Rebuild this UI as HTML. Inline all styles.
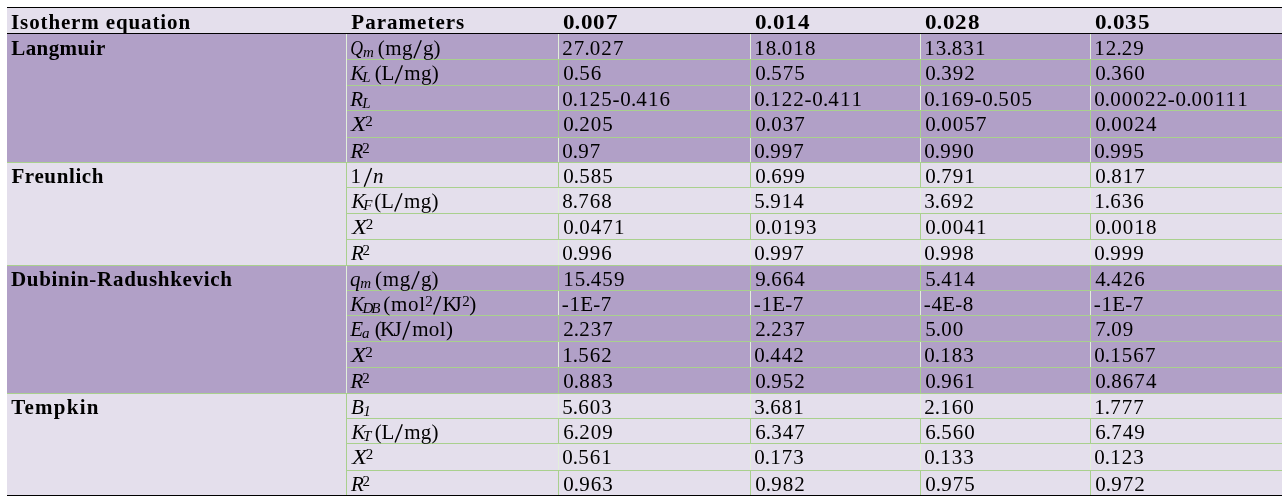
<!DOCTYPE html>
<html><head><meta charset="utf-8"><style>
html,body{margin:0;padding:0;background:#fff;width:1284px;height:503px;overflow:hidden;position:relative}
div{position:absolute}
#tx{will-change:transform;left:0;top:0;width:1284px;height:503px}
.t{font-family:"Liberation Serif",serif;font-size:21px;line-height:0;white-space:nowrap;color:#000}
.s{font-family:"Liberation Serif",serif;font-size:15px;line-height:0;white-space:nowrap;color:#000}
.b{font-weight:bold}
.i{font-style:italic}
</style></head><body>
<div style="left:7px;top:7px;width:1275px;height:1px;background:#000"></div>
<div style="left:7px;top:8px;width:1275px;height:25px;background:#e4dfec"></div>
<div style="left:7px;top:33px;width:1275px;height:1px;background:#000"></div>
<div style="left:7px;top:34px;width:1275px;height:128px;background:#b1a0c7"></div>
<div style="left:558px;top:34px;width:1px;height:25px;background:#e2efda"></div>
<div style="left:750px;top:34px;width:1px;height:25px;background:#e2efda"></div>
<div style="left:920px;top:34px;width:1px;height:25px;background:#e2efda"></div>
<div style="left:1090px;top:34px;width:1px;height:25px;background:#e2efda"></div>
<div style="left:346px;top:34px;width:1px;height:26px;background:#e2efda"></div>
<div style="left:347px;top:59px;width:935px;height:1px;background:#a9d08e"></div>
<div style="left:558px;top:60px;width:1px;height:25px;background:#a9d08e"></div>
<div style="left:750px;top:60px;width:1px;height:25px;background:#a9d08e"></div>
<div style="left:920px;top:60px;width:1px;height:25px;background:#a9d08e"></div>
<div style="left:1090px;top:60px;width:1px;height:25px;background:#a9d08e"></div>
<div style="left:346px;top:60px;width:1px;height:26px;background:#e2efda"></div>
<div style="left:347px;top:85px;width:935px;height:1px;background:#a9d08e"></div>
<div style="left:558px;top:86px;width:1px;height:24px;background:#e2efda"></div>
<div style="left:750px;top:86px;width:1px;height:24px;background:#e2efda"></div>
<div style="left:920px;top:86px;width:1px;height:24px;background:#e2efda"></div>
<div style="left:1090px;top:86px;width:1px;height:24px;background:#e2efda"></div>
<div style="left:346px;top:86px;width:1px;height:25px;background:#e2efda"></div>
<div style="left:347px;top:110px;width:935px;height:1px;background:#a9d08e"></div>
<div style="left:558px;top:111px;width:1px;height:26px;background:#a9d08e"></div>
<div style="left:750px;top:111px;width:1px;height:26px;background:#a9d08e"></div>
<div style="left:920px;top:111px;width:1px;height:26px;background:#a9d08e"></div>
<div style="left:1090px;top:111px;width:1px;height:26px;background:#a9d08e"></div>
<div style="left:346px;top:111px;width:1px;height:27px;background:#e2efda"></div>
<div style="left:347px;top:137px;width:935px;height:1px;background:#a9d08e"></div>
<div style="left:558px;top:138px;width:1px;height:24px;background:#e2efda"></div>
<div style="left:750px;top:138px;width:1px;height:24px;background:#e2efda"></div>
<div style="left:920px;top:138px;width:1px;height:24px;background:#e2efda"></div>
<div style="left:1090px;top:138px;width:1px;height:24px;background:#e2efda"></div>
<div style="left:346px;top:138px;width:1px;height:24px;background:#e2efda"></div>
<div style="left:7px;top:162px;width:1275px;height:1px;background:#a9d08e"></div>
<div style="left:7px;top:163px;width:1275px;height:102px;background:#e4dfec"></div>
<div style="left:558px;top:163px;width:1px;height:24px;background:#a9d08e"></div>
<div style="left:750px;top:163px;width:1px;height:24px;background:#a9d08e"></div>
<div style="left:920px;top:163px;width:1px;height:24px;background:#a9d08e"></div>
<div style="left:1090px;top:163px;width:1px;height:24px;background:#a9d08e"></div>
<div style="left:346px;top:163px;width:1px;height:25px;background:#a9d08e"></div>
<div style="left:347px;top:187px;width:935px;height:1px;background:#a9d08e"></div>
<div style="left:558px;top:188px;width:1px;height:25px;background:#e2efda"></div>
<div style="left:750px;top:188px;width:1px;height:25px;background:#e2efda"></div>
<div style="left:920px;top:188px;width:1px;height:25px;background:#e2efda"></div>
<div style="left:1090px;top:188px;width:1px;height:25px;background:#e2efda"></div>
<div style="left:346px;top:188px;width:1px;height:26px;background:#a9d08e"></div>
<div style="left:347px;top:213px;width:935px;height:1px;background:#a9d08e"></div>
<div style="left:558px;top:214px;width:1px;height:25px;background:#a9d08e"></div>
<div style="left:750px;top:214px;width:1px;height:25px;background:#a9d08e"></div>
<div style="left:920px;top:214px;width:1px;height:25px;background:#a9d08e"></div>
<div style="left:1090px;top:214px;width:1px;height:25px;background:#a9d08e"></div>
<div style="left:346px;top:214px;width:1px;height:26px;background:#a9d08e"></div>
<div style="left:347px;top:239px;width:935px;height:1px;background:#a9d08e"></div>
<div style="left:558px;top:240px;width:1px;height:25px;background:#e2efda"></div>
<div style="left:750px;top:240px;width:1px;height:25px;background:#e2efda"></div>
<div style="left:920px;top:240px;width:1px;height:25px;background:#e2efda"></div>
<div style="left:1090px;top:240px;width:1px;height:25px;background:#e2efda"></div>
<div style="left:346px;top:240px;width:1px;height:25px;background:#a9d08e"></div>
<div style="left:7px;top:265px;width:1275px;height:1px;background:#a9d08e"></div>
<div style="left:7px;top:266px;width:1275px;height:127px;background:#b1a0c7"></div>
<div style="left:558px;top:266px;width:1px;height:24px;background:#a9d08e"></div>
<div style="left:750px;top:266px;width:1px;height:24px;background:#a9d08e"></div>
<div style="left:920px;top:266px;width:1px;height:24px;background:#a9d08e"></div>
<div style="left:1090px;top:266px;width:1px;height:24px;background:#a9d08e"></div>
<div style="left:346px;top:266px;width:1px;height:25px;background:#e2efda"></div>
<div style="left:347px;top:290px;width:935px;height:1px;background:#a9d08e"></div>
<div style="left:558px;top:291px;width:1px;height:24px;background:#e2efda"></div>
<div style="left:750px;top:291px;width:1px;height:24px;background:#e2efda"></div>
<div style="left:920px;top:291px;width:1px;height:24px;background:#e2efda"></div>
<div style="left:1090px;top:291px;width:1px;height:24px;background:#e2efda"></div>
<div style="left:346px;top:291px;width:1px;height:25px;background:#e2efda"></div>
<div style="left:347px;top:315px;width:935px;height:1px;background:#a9d08e"></div>
<div style="left:558px;top:316px;width:1px;height:25px;background:#a9d08e"></div>
<div style="left:750px;top:316px;width:1px;height:25px;background:#a9d08e"></div>
<div style="left:920px;top:316px;width:1px;height:25px;background:#a9d08e"></div>
<div style="left:1090px;top:316px;width:1px;height:25px;background:#a9d08e"></div>
<div style="left:346px;top:316px;width:1px;height:26px;background:#e2efda"></div>
<div style="left:347px;top:341px;width:935px;height:1px;background:#a9d08e"></div>
<div style="left:558px;top:342px;width:1px;height:25px;background:#e2efda"></div>
<div style="left:750px;top:342px;width:1px;height:25px;background:#e2efda"></div>
<div style="left:920px;top:342px;width:1px;height:25px;background:#e2efda"></div>
<div style="left:1090px;top:342px;width:1px;height:25px;background:#e2efda"></div>
<div style="left:346px;top:342px;width:1px;height:26px;background:#e2efda"></div>
<div style="left:347px;top:367px;width:935px;height:1px;background:#a9d08e"></div>
<div style="left:558px;top:368px;width:1px;height:25px;background:#a9d08e"></div>
<div style="left:750px;top:368px;width:1px;height:25px;background:#a9d08e"></div>
<div style="left:920px;top:368px;width:1px;height:25px;background:#a9d08e"></div>
<div style="left:1090px;top:368px;width:1px;height:25px;background:#a9d08e"></div>
<div style="left:346px;top:368px;width:1px;height:25px;background:#e2efda"></div>
<div style="left:7px;top:393px;width:1275px;height:1px;background:#a9d08e"></div>
<div style="left:7px;top:394px;width:1275px;height:101px;background:#e4dfec"></div>
<div style="left:558px;top:394px;width:1px;height:24px;background:#e2efda"></div>
<div style="left:750px;top:394px;width:1px;height:24px;background:#e2efda"></div>
<div style="left:920px;top:394px;width:1px;height:24px;background:#e2efda"></div>
<div style="left:1090px;top:394px;width:1px;height:24px;background:#e2efda"></div>
<div style="left:346px;top:394px;width:1px;height:25px;background:#a9d08e"></div>
<div style="left:347px;top:418px;width:935px;height:1px;background:#a9d08e"></div>
<div style="left:558px;top:419px;width:1px;height:24px;background:#a9d08e"></div>
<div style="left:750px;top:419px;width:1px;height:24px;background:#a9d08e"></div>
<div style="left:920px;top:419px;width:1px;height:24px;background:#a9d08e"></div>
<div style="left:1090px;top:419px;width:1px;height:24px;background:#a9d08e"></div>
<div style="left:346px;top:419px;width:1px;height:25px;background:#a9d08e"></div>
<div style="left:347px;top:443px;width:935px;height:1px;background:#a9d08e"></div>
<div style="left:558px;top:444px;width:1px;height:26px;background:#e2efda"></div>
<div style="left:750px;top:444px;width:1px;height:26px;background:#e2efda"></div>
<div style="left:920px;top:444px;width:1px;height:26px;background:#e2efda"></div>
<div style="left:1090px;top:444px;width:1px;height:26px;background:#e2efda"></div>
<div style="left:346px;top:444px;width:1px;height:27px;background:#a9d08e"></div>
<div style="left:347px;top:470px;width:935px;height:1px;background:#a9d08e"></div>
<div style="left:558px;top:471px;width:1px;height:24px;background:#a9d08e"></div>
<div style="left:750px;top:471px;width:1px;height:24px;background:#a9d08e"></div>
<div style="left:920px;top:471px;width:1px;height:24px;background:#a9d08e"></div>
<div style="left:1090px;top:471px;width:1px;height:24px;background:#a9d08e"></div>
<div style="left:346px;top:471px;width:1px;height:24px;background:#a9d08e"></div>
<div style="left:7px;top:495px;width:1275px;height:1px;background:#000"></div>
<div id="tx">
<div class="t b" style="left:562.77px;top:22px;transform:scaleX(1.1);transform-origin:0 0;">0</div>
<div class="t b" style="left:574.79px;top:22px;">.</div>
<div class="t b" style="left:580.52px;top:22px;transform:scaleX(1.1);transform-origin:0 0;">0</div>
<div class="t b" style="left:593.27px;top:22px;transform:scaleX(1.1);transform-origin:0 0;">0</div>
<div class="t b" style="left:606.02px;top:22px;transform:scaleX(1.1);transform-origin:0 0;">7</div>
<div class="t b" style="left:754.77px;top:22px;transform:scaleX(1.1);transform-origin:0 0;">0</div>
<div class="t b" style="left:766.79px;top:22px;">.</div>
<div class="t b" style="left:772.52px;top:22px;transform:scaleX(1.1);transform-origin:0 0;">0</div>
<div class="t b" style="left:785.27px;top:22px;transform:scaleX(1.1);transform-origin:0 0;">1</div>
<div class="t b" style="left:798.02px;top:22px;transform:scaleX(1.1);transform-origin:0 0;">4</div>
<div class="t b" style="left:924.77px;top:22px;transform:scaleX(1.1);transform-origin:0 0;">0</div>
<div class="t b" style="left:936.79px;top:22px;">.</div>
<div class="t b" style="left:942.52px;top:22px;transform:scaleX(1.1);transform-origin:0 0;">0</div>
<div class="t b" style="left:955.27px;top:22px;transform:scaleX(1.1);transform-origin:0 0;">2</div>
<div class="t b" style="left:968.02px;top:22px;transform:scaleX(1.1);transform-origin:0 0;">8</div>
<div class="t b" style="left:1094.77px;top:22px;transform:scaleX(1.1);transform-origin:0 0;">0</div>
<div class="t b" style="left:1106.80px;top:22px;">.</div>
<div class="t b" style="left:1112.52px;top:22px;transform:scaleX(1.1);transform-origin:0 0;">0</div>
<div class="t b" style="left:1125.27px;top:22px;transform:scaleX(1.1);transform-origin:0 0;">3</div>
<div class="t b" style="left:1138.02px;top:22px;transform:scaleX(1.1);transform-origin:0 0;">5</div>
<div class="t" style="left:562.17px;top:48px"><span style="letter-spacing:1.100px">2</span><span style="letter-spacing:0.100px">7</span><span style="letter-spacing:0.100px">.</span><span style="letter-spacing:1.100px">0</span><span style="letter-spacing:1.100px">2</span><span style="letter-spacing:0.550px">7</span></div>
<div class="t" style="left:754.17px;top:48px"><span style="letter-spacing:1.100px">1</span><span style="letter-spacing:0.100px">8</span><span style="letter-spacing:0.100px">.</span><span style="letter-spacing:1.100px">0</span><span style="letter-spacing:1.100px">1</span><span style="letter-spacing:0.550px">8</span></div>
<div class="t" style="left:924.17px;top:48px"><span style="letter-spacing:1.100px">1</span><span style="letter-spacing:0.100px">3</span><span style="letter-spacing:0.100px">.</span><span style="letter-spacing:1.100px">8</span><span style="letter-spacing:1.100px">3</span><span style="letter-spacing:0.550px">1</span></div>
<div class="t" style="left:1094.17px;top:48px"><span style="letter-spacing:1.100px">1</span><span style="letter-spacing:0.100px">2</span><span style="letter-spacing:0.100px">.</span><span style="letter-spacing:1.100px">2</span><span style="letter-spacing:0.550px">9</span></div>
<div class="t" style="left:563.17px;top:73px"><span style="letter-spacing:0.100px">0</span><span style="letter-spacing:0.100px">.</span><span style="letter-spacing:1.100px">5</span><span style="letter-spacing:0.550px">6</span></div>
<div class="t" style="left:755.17px;top:73px"><span style="letter-spacing:0.100px">0</span><span style="letter-spacing:0.100px">.</span><span style="letter-spacing:1.100px">5</span><span style="letter-spacing:1.100px">7</span><span style="letter-spacing:0.550px">5</span></div>
<div class="t" style="left:925.17px;top:73px"><span style="letter-spacing:0.100px">0</span><span style="letter-spacing:0.100px">.</span><span style="letter-spacing:1.100px">3</span><span style="letter-spacing:1.100px">9</span><span style="letter-spacing:0.550px">2</span></div>
<div class="t" style="left:1095.17px;top:73px"><span style="letter-spacing:0.100px">0</span><span style="letter-spacing:0.100px">.</span><span style="letter-spacing:1.100px">3</span><span style="letter-spacing:1.100px">6</span><span style="letter-spacing:0.550px">0</span></div>
<div class="t" style="left:562.17px;top:99px"><span style="letter-spacing:0.100px">0</span><span style="letter-spacing:0.100px">.</span><span style="letter-spacing:1.100px">1</span><span style="letter-spacing:1.100px">2</span><span style="letter-spacing:0.728px">5</span><span style="letter-spacing:0.728px">-</span><span style="letter-spacing:0.100px">0</span><span style="letter-spacing:0.100px">.</span><span style="letter-spacing:1.100px">4</span><span style="letter-spacing:1.100px">1</span><span style="letter-spacing:0.550px">6</span></div>
<div class="t" style="left:754.17px;top:99px"><span style="letter-spacing:0.100px">0</span><span style="letter-spacing:0.100px">.</span><span style="letter-spacing:1.100px">1</span><span style="letter-spacing:1.100px">2</span><span style="letter-spacing:0.728px">2</span><span style="letter-spacing:0.728px">-</span><span style="letter-spacing:0.100px">0</span><span style="letter-spacing:0.100px">.</span><span style="letter-spacing:1.100px">4</span><span style="letter-spacing:1.100px">1</span><span style="letter-spacing:0.550px">1</span></div>
<div class="t" style="left:924.17px;top:99px"><span style="letter-spacing:0.100px">0</span><span style="letter-spacing:0.100px">.</span><span style="letter-spacing:1.100px">1</span><span style="letter-spacing:1.100px">6</span><span style="letter-spacing:0.728px">9</span><span style="letter-spacing:0.728px">-</span><span style="letter-spacing:0.100px">0</span><span style="letter-spacing:0.100px">.</span><span style="letter-spacing:1.100px">5</span><span style="letter-spacing:1.100px">0</span><span style="letter-spacing:0.550px">5</span></div>
<div class="t" style="left:1094.17px;top:99px"><span style="letter-spacing:0.100px">0</span><span style="letter-spacing:0.100px">.</span><span style="letter-spacing:1.100px">0</span><span style="letter-spacing:1.100px">0</span><span style="letter-spacing:1.100px">0</span><span style="letter-spacing:1.100px">2</span><span style="letter-spacing:0.728px">2</span><span style="letter-spacing:0.728px">-</span><span style="letter-spacing:0.100px">0</span><span style="letter-spacing:0.100px">.</span><span style="letter-spacing:1.100px">0</span><span style="letter-spacing:1.100px">0</span><span style="letter-spacing:1.100px">1</span><span style="letter-spacing:1.100px">1</span><span style="letter-spacing:0.550px">1</span></div>
<div class="t" style="left:563.17px;top:124px"><span style="letter-spacing:0.100px">0</span><span style="letter-spacing:0.100px">.</span><span style="letter-spacing:1.100px">2</span><span style="letter-spacing:1.100px">0</span><span style="letter-spacing:0.550px">5</span></div>
<div class="t" style="left:755.17px;top:124px"><span style="letter-spacing:0.100px">0</span><span style="letter-spacing:0.100px">.</span><span style="letter-spacing:1.100px">0</span><span style="letter-spacing:1.100px">3</span><span style="letter-spacing:0.550px">7</span></div>
<div class="t" style="left:925.17px;top:124px"><span style="letter-spacing:0.100px">0</span><span style="letter-spacing:0.100px">.</span><span style="letter-spacing:1.100px">0</span><span style="letter-spacing:1.100px">0</span><span style="letter-spacing:1.100px">5</span><span style="letter-spacing:0.550px">7</span></div>
<div class="t" style="left:1095.17px;top:124px"><span style="letter-spacing:0.100px">0</span><span style="letter-spacing:0.100px">.</span><span style="letter-spacing:1.100px">0</span><span style="letter-spacing:1.100px">0</span><span style="letter-spacing:1.100px">2</span><span style="letter-spacing:0.550px">4</span></div>
<div class="t" style="left:562.17px;top:151px"><span style="letter-spacing:0.100px">0</span><span style="letter-spacing:0.100px">.</span><span style="letter-spacing:1.100px">9</span><span style="letter-spacing:0.550px">7</span></div>
<div class="t" style="left:754.17px;top:151px"><span style="letter-spacing:0.100px">0</span><span style="letter-spacing:0.100px">.</span><span style="letter-spacing:1.100px">9</span><span style="letter-spacing:1.100px">9</span><span style="letter-spacing:0.550px">7</span></div>
<div class="t" style="left:924.17px;top:151px"><span style="letter-spacing:0.100px">0</span><span style="letter-spacing:0.100px">.</span><span style="letter-spacing:1.100px">9</span><span style="letter-spacing:1.100px">9</span><span style="letter-spacing:0.550px">0</span></div>
<div class="t" style="left:1094.17px;top:151px"><span style="letter-spacing:0.100px">0</span><span style="letter-spacing:0.100px">.</span><span style="letter-spacing:1.100px">9</span><span style="letter-spacing:1.100px">9</span><span style="letter-spacing:0.550px">5</span></div>
<div class="t" style="left:563.17px;top:176px"><span style="letter-spacing:0.100px">0</span><span style="letter-spacing:0.100px">.</span><span style="letter-spacing:1.100px">5</span><span style="letter-spacing:1.100px">8</span><span style="letter-spacing:0.550px">5</span></div>
<div class="t" style="left:755.17px;top:176px"><span style="letter-spacing:0.100px">0</span><span style="letter-spacing:0.100px">.</span><span style="letter-spacing:1.100px">6</span><span style="letter-spacing:1.100px">9</span><span style="letter-spacing:0.550px">9</span></div>
<div class="t" style="left:925.17px;top:176px"><span style="letter-spacing:0.100px">0</span><span style="letter-spacing:0.100px">.</span><span style="letter-spacing:1.100px">7</span><span style="letter-spacing:1.100px">9</span><span style="letter-spacing:0.550px">1</span></div>
<div class="t" style="left:1095.17px;top:176px"><span style="letter-spacing:0.100px">0</span><span style="letter-spacing:0.100px">.</span><span style="letter-spacing:1.100px">8</span><span style="letter-spacing:1.100px">1</span><span style="letter-spacing:0.550px">7</span></div>
<div class="t" style="left:562.17px;top:201px"><span style="letter-spacing:0.100px">8</span><span style="letter-spacing:0.100px">.</span><span style="letter-spacing:1.100px">7</span><span style="letter-spacing:1.100px">6</span><span style="letter-spacing:0.550px">8</span></div>
<div class="t" style="left:754.17px;top:201px"><span style="letter-spacing:0.100px">5</span><span style="letter-spacing:0.100px">.</span><span style="letter-spacing:1.100px">9</span><span style="letter-spacing:1.100px">1</span><span style="letter-spacing:0.550px">4</span></div>
<div class="t" style="left:924.17px;top:201px"><span style="letter-spacing:0.100px">3</span><span style="letter-spacing:0.100px">.</span><span style="letter-spacing:1.100px">6</span><span style="letter-spacing:1.100px">9</span><span style="letter-spacing:0.550px">2</span></div>
<div class="t" style="left:1094.17px;top:201px"><span style="letter-spacing:0.100px">1</span><span style="letter-spacing:0.100px">.</span><span style="letter-spacing:1.100px">6</span><span style="letter-spacing:1.100px">3</span><span style="letter-spacing:0.550px">6</span></div>
<div class="t" style="left:563.17px;top:227px"><span style="letter-spacing:0.100px">0</span><span style="letter-spacing:0.100px">.</span><span style="letter-spacing:1.100px">0</span><span style="letter-spacing:1.100px">4</span><span style="letter-spacing:1.100px">7</span><span style="letter-spacing:0.550px">1</span></div>
<div class="t" style="left:755.17px;top:227px"><span style="letter-spacing:0.100px">0</span><span style="letter-spacing:0.100px">.</span><span style="letter-spacing:1.100px">0</span><span style="letter-spacing:1.100px">1</span><span style="letter-spacing:1.100px">9</span><span style="letter-spacing:0.550px">3</span></div>
<div class="t" style="left:925.17px;top:227px"><span style="letter-spacing:0.100px">0</span><span style="letter-spacing:0.100px">.</span><span style="letter-spacing:1.100px">0</span><span style="letter-spacing:1.100px">0</span><span style="letter-spacing:1.100px">4</span><span style="letter-spacing:0.550px">1</span></div>
<div class="t" style="left:1095.17px;top:227px"><span style="letter-spacing:0.100px">0</span><span style="letter-spacing:0.100px">.</span><span style="letter-spacing:1.100px">0</span><span style="letter-spacing:1.100px">0</span><span style="letter-spacing:1.100px">1</span><span style="letter-spacing:0.550px">8</span></div>
<div class="t" style="left:562.17px;top:253px"><span style="letter-spacing:0.100px">0</span><span style="letter-spacing:0.100px">.</span><span style="letter-spacing:1.100px">9</span><span style="letter-spacing:1.100px">9</span><span style="letter-spacing:0.550px">6</span></div>
<div class="t" style="left:754.17px;top:253px"><span style="letter-spacing:0.100px">0</span><span style="letter-spacing:0.100px">.</span><span style="letter-spacing:1.100px">9</span><span style="letter-spacing:1.100px">9</span><span style="letter-spacing:0.550px">7</span></div>
<div class="t" style="left:924.17px;top:253px"><span style="letter-spacing:0.100px">0</span><span style="letter-spacing:0.100px">.</span><span style="letter-spacing:1.100px">9</span><span style="letter-spacing:1.100px">9</span><span style="letter-spacing:0.550px">8</span></div>
<div class="t" style="left:1094.17px;top:253px"><span style="letter-spacing:0.100px">0</span><span style="letter-spacing:0.100px">.</span><span style="letter-spacing:1.100px">9</span><span style="letter-spacing:1.100px">9</span><span style="letter-spacing:0.550px">9</span></div>
<div class="t" style="left:563.17px;top:279px"><span style="letter-spacing:1.100px">1</span><span style="letter-spacing:0.100px">5</span><span style="letter-spacing:0.100px">.</span><span style="letter-spacing:1.100px">4</span><span style="letter-spacing:1.100px">5</span><span style="letter-spacing:0.550px">9</span></div>
<div class="t" style="left:755.17px;top:279px"><span style="letter-spacing:0.100px">9</span><span style="letter-spacing:0.100px">.</span><span style="letter-spacing:1.100px">6</span><span style="letter-spacing:1.100px">6</span><span style="letter-spacing:0.550px">4</span></div>
<div class="t" style="left:925.17px;top:279px"><span style="letter-spacing:0.100px">5</span><span style="letter-spacing:0.100px">.</span><span style="letter-spacing:1.100px">4</span><span style="letter-spacing:1.100px">1</span><span style="letter-spacing:0.550px">4</span></div>
<div class="t" style="left:1095.17px;top:279px"><span style="letter-spacing:0.100px">4</span><span style="letter-spacing:0.100px">.</span><span style="letter-spacing:1.100px">4</span><span style="letter-spacing:1.100px">2</span><span style="letter-spacing:0.550px">6</span></div>
<div class="t" style="left:561.80px;top:304px"><span style="letter-spacing:0.728px">-</span><span style="letter-spacing:0.309px">1</span><span style="letter-spacing:-0.062px">E</span><span style="letter-spacing:0.728px">-</span><span style="letter-spacing:0.550px">7</span></div>
<div class="t" style="left:753.80px;top:304px"><span style="letter-spacing:0.728px">-</span><span style="letter-spacing:0.309px">1</span><span style="letter-spacing:-0.062px">E</span><span style="letter-spacing:0.728px">-</span><span style="letter-spacing:0.550px">7</span></div>
<div class="t" style="left:923.80px;top:304px"><span style="letter-spacing:0.728px">-</span><span style="letter-spacing:0.309px">4</span><span style="letter-spacing:-0.062px">E</span><span style="letter-spacing:0.728px">-</span><span style="letter-spacing:0.550px">8</span></div>
<div class="t" style="left:1093.80px;top:304px"><span style="letter-spacing:0.728px">-</span><span style="letter-spacing:0.309px">1</span><span style="letter-spacing:-0.062px">E</span><span style="letter-spacing:0.728px">-</span><span style="letter-spacing:0.550px">7</span></div>
<div class="t" style="left:563.17px;top:329px"><span style="letter-spacing:0.100px">2</span><span style="letter-spacing:0.100px">.</span><span style="letter-spacing:1.100px">2</span><span style="letter-spacing:1.100px">3</span><span style="letter-spacing:0.550px">7</span></div>
<div class="t" style="left:755.17px;top:329px"><span style="letter-spacing:0.100px">2</span><span style="letter-spacing:0.100px">.</span><span style="letter-spacing:1.100px">2</span><span style="letter-spacing:1.100px">3</span><span style="letter-spacing:0.550px">7</span></div>
<div class="t" style="left:925.17px;top:329px"><span style="letter-spacing:0.100px">5</span><span style="letter-spacing:0.100px">.</span><span style="letter-spacing:1.100px">0</span><span style="letter-spacing:0.550px">0</span></div>
<div class="t" style="left:1095.17px;top:329px"><span style="letter-spacing:0.100px">7</span><span style="letter-spacing:0.100px">.</span><span style="letter-spacing:1.100px">0</span><span style="letter-spacing:0.550px">9</span></div>
<div class="t" style="left:562.17px;top:355px"><span style="letter-spacing:0.100px">1</span><span style="letter-spacing:0.100px">.</span><span style="letter-spacing:1.100px">5</span><span style="letter-spacing:1.100px">6</span><span style="letter-spacing:0.550px">2</span></div>
<div class="t" style="left:754.17px;top:355px"><span style="letter-spacing:0.100px">0</span><span style="letter-spacing:0.100px">.</span><span style="letter-spacing:1.100px">4</span><span style="letter-spacing:1.100px">4</span><span style="letter-spacing:0.550px">2</span></div>
<div class="t" style="left:924.17px;top:355px"><span style="letter-spacing:0.100px">0</span><span style="letter-spacing:0.100px">.</span><span style="letter-spacing:1.100px">1</span><span style="letter-spacing:1.100px">8</span><span style="letter-spacing:0.550px">3</span></div>
<div class="t" style="left:1094.17px;top:355px"><span style="letter-spacing:0.100px">0</span><span style="letter-spacing:0.100px">.</span><span style="letter-spacing:1.100px">1</span><span style="letter-spacing:1.100px">5</span><span style="letter-spacing:1.100px">6</span><span style="letter-spacing:0.550px">7</span></div>
<div class="t" style="left:563.17px;top:381px"><span style="letter-spacing:0.100px">0</span><span style="letter-spacing:0.100px">.</span><span style="letter-spacing:1.100px">8</span><span style="letter-spacing:1.100px">8</span><span style="letter-spacing:0.550px">3</span></div>
<div class="t" style="left:755.17px;top:381px"><span style="letter-spacing:0.100px">0</span><span style="letter-spacing:0.100px">.</span><span style="letter-spacing:1.100px">9</span><span style="letter-spacing:1.100px">5</span><span style="letter-spacing:0.550px">2</span></div>
<div class="t" style="left:925.17px;top:381px"><span style="letter-spacing:0.100px">0</span><span style="letter-spacing:0.100px">.</span><span style="letter-spacing:1.100px">9</span><span style="letter-spacing:1.100px">6</span><span style="letter-spacing:0.550px">1</span></div>
<div class="t" style="left:1095.17px;top:381px"><span style="letter-spacing:0.100px">0</span><span style="letter-spacing:0.100px">.</span><span style="letter-spacing:1.100px">8</span><span style="letter-spacing:1.100px">6</span><span style="letter-spacing:1.100px">7</span><span style="letter-spacing:0.550px">4</span></div>
<div class="t" style="left:562.17px;top:407px"><span style="letter-spacing:0.100px">5</span><span style="letter-spacing:0.100px">.</span><span style="letter-spacing:1.100px">6</span><span style="letter-spacing:1.100px">0</span><span style="letter-spacing:0.550px">3</span></div>
<div class="t" style="left:754.17px;top:407px"><span style="letter-spacing:0.100px">3</span><span style="letter-spacing:0.100px">.</span><span style="letter-spacing:1.100px">6</span><span style="letter-spacing:1.100px">8</span><span style="letter-spacing:0.550px">1</span></div>
<div class="t" style="left:924.17px;top:407px"><span style="letter-spacing:0.100px">2</span><span style="letter-spacing:0.100px">.</span><span style="letter-spacing:1.100px">1</span><span style="letter-spacing:1.100px">6</span><span style="letter-spacing:0.550px">0</span></div>
<div class="t" style="left:1094.17px;top:407px"><span style="letter-spacing:0.100px">1</span><span style="letter-spacing:0.100px">.</span><span style="letter-spacing:1.100px">7</span><span style="letter-spacing:1.100px">7</span><span style="letter-spacing:0.550px">7</span></div>
<div class="t" style="left:563.17px;top:432px"><span style="letter-spacing:0.100px">6</span><span style="letter-spacing:0.100px">.</span><span style="letter-spacing:1.100px">2</span><span style="letter-spacing:1.100px">0</span><span style="letter-spacing:0.550px">9</span></div>
<div class="t" style="left:755.17px;top:432px"><span style="letter-spacing:0.100px">6</span><span style="letter-spacing:0.100px">.</span><span style="letter-spacing:1.100px">3</span><span style="letter-spacing:1.100px">4</span><span style="letter-spacing:0.550px">7</span></div>
<div class="t" style="left:925.17px;top:432px"><span style="letter-spacing:0.100px">6</span><span style="letter-spacing:0.100px">.</span><span style="letter-spacing:1.100px">5</span><span style="letter-spacing:1.100px">6</span><span style="letter-spacing:0.550px">0</span></div>
<div class="t" style="left:1095.17px;top:432px"><span style="letter-spacing:0.100px">6</span><span style="letter-spacing:0.100px">.</span><span style="letter-spacing:1.100px">7</span><span style="letter-spacing:1.100px">4</span><span style="letter-spacing:0.550px">9</span></div>
<div class="t" style="left:562.17px;top:457px"><span style="letter-spacing:0.100px">0</span><span style="letter-spacing:0.100px">.</span><span style="letter-spacing:1.100px">5</span><span style="letter-spacing:1.100px">6</span><span style="letter-spacing:0.550px">1</span></div>
<div class="t" style="left:754.17px;top:457px"><span style="letter-spacing:0.100px">0</span><span style="letter-spacing:0.100px">.</span><span style="letter-spacing:1.100px">1</span><span style="letter-spacing:1.100px">7</span><span style="letter-spacing:0.550px">3</span></div>
<div class="t" style="left:924.17px;top:457px"><span style="letter-spacing:0.100px">0</span><span style="letter-spacing:0.100px">.</span><span style="letter-spacing:1.100px">1</span><span style="letter-spacing:1.100px">3</span><span style="letter-spacing:0.550px">3</span></div>
<div class="t" style="left:1094.17px;top:457px"><span style="letter-spacing:0.100px">0</span><span style="letter-spacing:0.100px">.</span><span style="letter-spacing:1.100px">1</span><span style="letter-spacing:1.100px">2</span><span style="letter-spacing:0.550px">3</span></div>
<div class="t" style="left:563.17px;top:484px"><span style="letter-spacing:0.100px">0</span><span style="letter-spacing:0.100px">.</span><span style="letter-spacing:1.100px">9</span><span style="letter-spacing:1.100px">6</span><span style="letter-spacing:0.550px">3</span></div>
<div class="t" style="left:755.17px;top:484px"><span style="letter-spacing:0.100px">0</span><span style="letter-spacing:0.100px">.</span><span style="letter-spacing:1.100px">9</span><span style="letter-spacing:1.100px">8</span><span style="letter-spacing:0.550px">2</span></div>
<div class="t" style="left:925.17px;top:484px"><span style="letter-spacing:0.100px">0</span><span style="letter-spacing:0.100px">.</span><span style="letter-spacing:1.100px">9</span><span style="letter-spacing:1.100px">7</span><span style="letter-spacing:0.550px">5</span></div>
<div class="t" style="left:1095.17px;top:484px"><span style="letter-spacing:0.100px">0</span><span style="letter-spacing:0.100px">.</span><span style="letter-spacing:1.100px">9</span><span style="letter-spacing:1.100px">7</span><span style="letter-spacing:0.550px">2</span></div>
<div class="t b" style="left:11.07px;top:22px;letter-spacing:0.870px;">Isotherm equation</div>
<div class="t b" style="left:351.29px;top:22px;letter-spacing:1.023px;">Parameters</div>
<div class="t i" style="left:349.89px;top:48px;"><span style="display:inline-block;transform:scaleX(0.843);transform-origin:1.21px 0;">Q</span></div>
<div class="s i" style="left:363.04px;top:52px;">m</div>
<div class="t" style="left:377.85px;top:48px;letter-spacing:0.433px;">(mg</div>
<div class="t" style="left:423.05px;top:48px;letter-spacing:-0.084px;">g)</div>
<div class="t b" style="left:11.25px;top:48px;letter-spacing:0.419px;">Langmuir</div>
<div class="t i" style="left:350.47px;top:73px;">K</div>
<div class="s i" style="left:362.36px;top:77px;">L</div>
<div class="t" style="left:374.85px;top:73px;letter-spacing:-0.380px;">(L</div>
<div class="t" style="left:404.24px;top:73px;letter-spacing:0.344px;">mg)</div>
<div class="t i" style="left:350.20px;top:99px;">R</div>
<div class="s i" style="left:362.16px;top:103px;">L</div>
<div class="t i" style="left:350.62px;top:124px;"><span style="display:inline-block;transform:scaleX(1.179);transform-origin:-0.02px 0;">X</span></div>
<div class="s" style="left:365.34px;top:121px;">2</div>
<div class="t i" style="left:350.40px;top:151px;">R</div>
<div class="s" style="left:362.24px;top:148px;">2</div>
<div class="t" style="left:350.53px;top:176px;">1</div>
<div class="t i" style="left:372.96px;top:176px;">n</div>
<div class="t b" style="left:11.39px;top:176px;letter-spacing:0.624px;">Freunlich</div>
<div class="t i" style="left:351.47px;top:201px;">K</div>
<div class="s i" style="left:363.26px;top:205px;">F</div>
<div class="t" style="left:374.35px;top:201px;letter-spacing:-0.297px;">(L</div>
<div class="t" style="left:403.88px;top:201px;letter-spacing:0.423px;">mg)</div>
<div class="t i" style="left:351.52px;top:227px;"><span style="display:inline-block;transform:scaleX(1.164);transform-origin:-0.02px 0;">X</span></div>
<div class="s" style="left:365.74px;top:224px;">2</div>
<div class="t i" style="left:351.10px;top:253px;">R</div>
<div class="s" style="left:362.54px;top:250px;">2</div>
<div class="t i" style="left:349.96px;top:279px;">q</div>
<div class="s i" style="left:360.34px;top:283px;">m</div>
<div class="t" style="left:374.95px;top:279px;letter-spacing:0.707px;">(mg</div>
<div class="t" style="left:420.89px;top:279px;letter-spacing:0.171px;">g)</div>
<div class="t b" style="left:10.88px;top:279px;letter-spacing:0.705px;">Dubinin-Radushkevich</div>
<div class="t i" style="left:350.27px;top:304px;">K</div>
<div class="s i" style="left:362.55px;top:308px;letter-spacing:-2.231px;">DB</div>
<div class="t" style="left:383.35px;top:304px;letter-spacing:0.658px;">(mol</div>
<div class="s" style="left:425.34px;top:301px;">2</div>
<div class="t" style="left:442.52px;top:304px;letter-spacing:-4.073px;">KJ</div>
<div class="s" style="left:462.34px;top:301px;">2</div>
<div class="t" style="left:469.37px;top:304px;">)</div>
<div class="t i" style="left:350.37px;top:329px;">E</div>
<div class="s i" style="left:361.91px;top:333px;">a</div>
<div class="t" style="left:374.65px;top:329px;letter-spacing:-1.702px;">(KJ</div>
<div class="t" style="left:412.14px;top:329px;letter-spacing:0.396px;">mol)</div>
<div class="t i" style="left:350.62px;top:355px;"><span style="display:inline-block;transform:scaleX(1.179);transform-origin:-0.02px 0;">X</span></div>
<div class="s" style="left:365.34px;top:352px;">2</div>
<div class="t i" style="left:350.40px;top:381px;">R</div>
<div class="s" style="left:362.24px;top:378px;">2</div>
<div class="t i" style="left:350.98px;top:407px;">B</div>
<div class="s i" style="left:363.23px;top:411px;">1</div>
<div class="t b" style="left:11.15px;top:407px;letter-spacing:1.270px;">Tempkin</div>
<div class="t i" style="left:351.47px;top:432px;">K</div>
<div class="s i" style="left:363.05px;top:436px;">T</div>
<div class="t" style="left:374.85px;top:432px;letter-spacing:-0.436px;">(L</div>
<div class="t" style="left:404.14px;top:432px;letter-spacing:0.291px;">mg)</div>
<div class="t i" style="left:351.52px;top:457px;"><span style="display:inline-block;transform:scaleX(1.164);transform-origin:-0.02px 0;">X</span></div>
<div class="s" style="left:365.74px;top:454px;">2</div>
<div class="t i" style="left:351.10px;top:484px;">R</div>
<div class="s" style="left:362.54px;top:481px;">2</div>
<svg width="1284" height="503" style="position:absolute;left:0;top:0" stroke="#000" stroke-width="1.4" stroke-linecap="butt"><line x1="413.97" y1="58.30" x2="421.23" y2="40.30"/><line x1="395.17" y1="83.60" x2="402.33" y2="65.20"/><line x1="364.27" y1="186.80" x2="371.53" y2="168.10"/><line x1="394.76" y1="211.60" x2="401.96" y2="193.20"/><line x1="411.64" y1="289.30" x2="419.04" y2="271.30"/><line x1="433.77" y1="314.60" x2="440.73" y2="296.20"/><line x1="402.87" y1="339.70" x2="409.83" y2="321.10"/><line x1="395.11" y1="442.60" x2="402.24" y2="424.20"/></svg>
</div>
</body></html>
